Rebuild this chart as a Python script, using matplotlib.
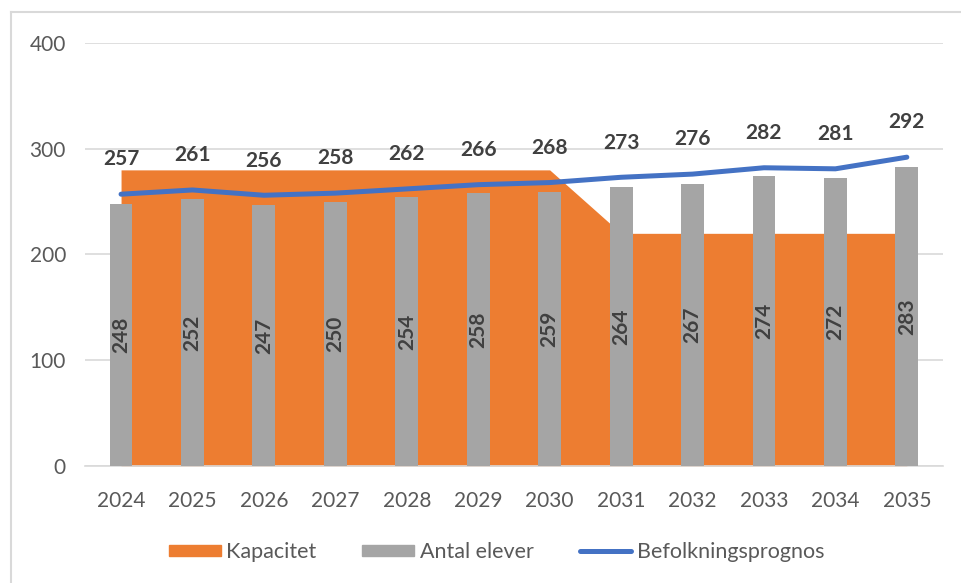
import matplotlib.pyplot as plt
from matplotlib.lines import Line2D
from matplotlib.patches import Patch
import numpy as np

plt.rcParams['font.family'] = ['Lato', 'DejaVu Sans']

years = ['2024', '2025', '2026', '2027', '2028', '2029', '2030',
         '2031', '2032', '2033', '2034', '2035']
kapacitet = [280, 280, 280, 280, 280, 280, 280, 220, 220, 220, 220, 220]
antal_elever = [248, 252, 247, 250, 254, 258, 259, 264, 267, 274, 272, 283]
befolkning = [257, 261, 256, 258, 262, 266, 268, 273, 276, 282, 281, 292]

orange = '#ED7D31'
grey = '#A5A5A5'
blue = '#4472C4'
txt = '#595959'
lbl = '#404040'

fig = plt.figure(figsize=(9.61, 5.83), dpi=100)
ax = fig.add_axes([0.0888, 0.2007, 0.892, 0.7256])

x = np.arange(len(years))
ax.fill_between(x, 0, kapacitet, color=orange, linewidth=0, zorder=2)
bars = ax.bar(x, antal_elever, width=0.32, color=grey, zorder=3)
ax.plot(x, befolkning, color=blue, linewidth=3.6, solid_capstyle='round', zorder=4)

for xi, v in zip(x, antal_elever):
    ax.text(xi, v / 2, str(v), rotation=90, ha='center', va='center',
            fontsize=15, fontweight='bold', color=lbl, zorder=5)
for xi, v in zip(x, befolkning):
    ax.annotate(str(v), (xi, v), xytext=(0, 25), textcoords='offset points',
                ha='center', va='center', fontsize=15, fontweight='bold',
                color=lbl, zorder=5)

ax.set_xlim(-0.5, len(years) - 0.5)
ax.set_ylim(0, 400)
ax.set_yticks([0, 100, 200, 300, 400])
ax.set_xticks(x)
ax.set_xticklabels(years)
ax.yaxis.grid(True, color='#D9D9D9', linewidth=1.2, zorder=0)
ax.set_axisbelow(True)
for s in ['top', 'right', 'left']:
    ax.spines[s].set_visible(False)
ax.spines['bottom'].set_color('#D9D9D9')
ax.spines['bottom'].set_linewidth(1.2)
ax.tick_params(length=0, labelsize=15, labelcolor=txt)
ax.tick_params(axis='y', pad=14)
ax.tick_params(axis='x', pad=18)

handles = [Patch(color=orange), Patch(color=grey),
           Line2D([0], [0], color=blue, linewidth=3.6, solid_capstyle='round')]
fig.legend(handles, ['Kapacitet', 'Antal elever', 'Befolkningsprognos'],
           loc='center', bbox_to_anchor=(0.5167, 0.0532), ncol=3, frameon=False,
           fontsize=15.5, labelcolor=txt, handlelength=2.4, handleheight=0.4,
           handletextpad=0.25, columnspacing=2.15)

# chart frame (light grey border top and left)
fig.add_artist(Line2D([11 / 961, 1], [1 - 12 / 583, 1 - 12 / 583],
                      color='#D9D9D9', linewidth=1.5))
fig.add_artist(Line2D([11 / 961, 11 / 961], [0, 1 - 12 / 583],
                      color='#D9D9D9', linewidth=1.5))

fig.savefig('out.png', dpi=100)
